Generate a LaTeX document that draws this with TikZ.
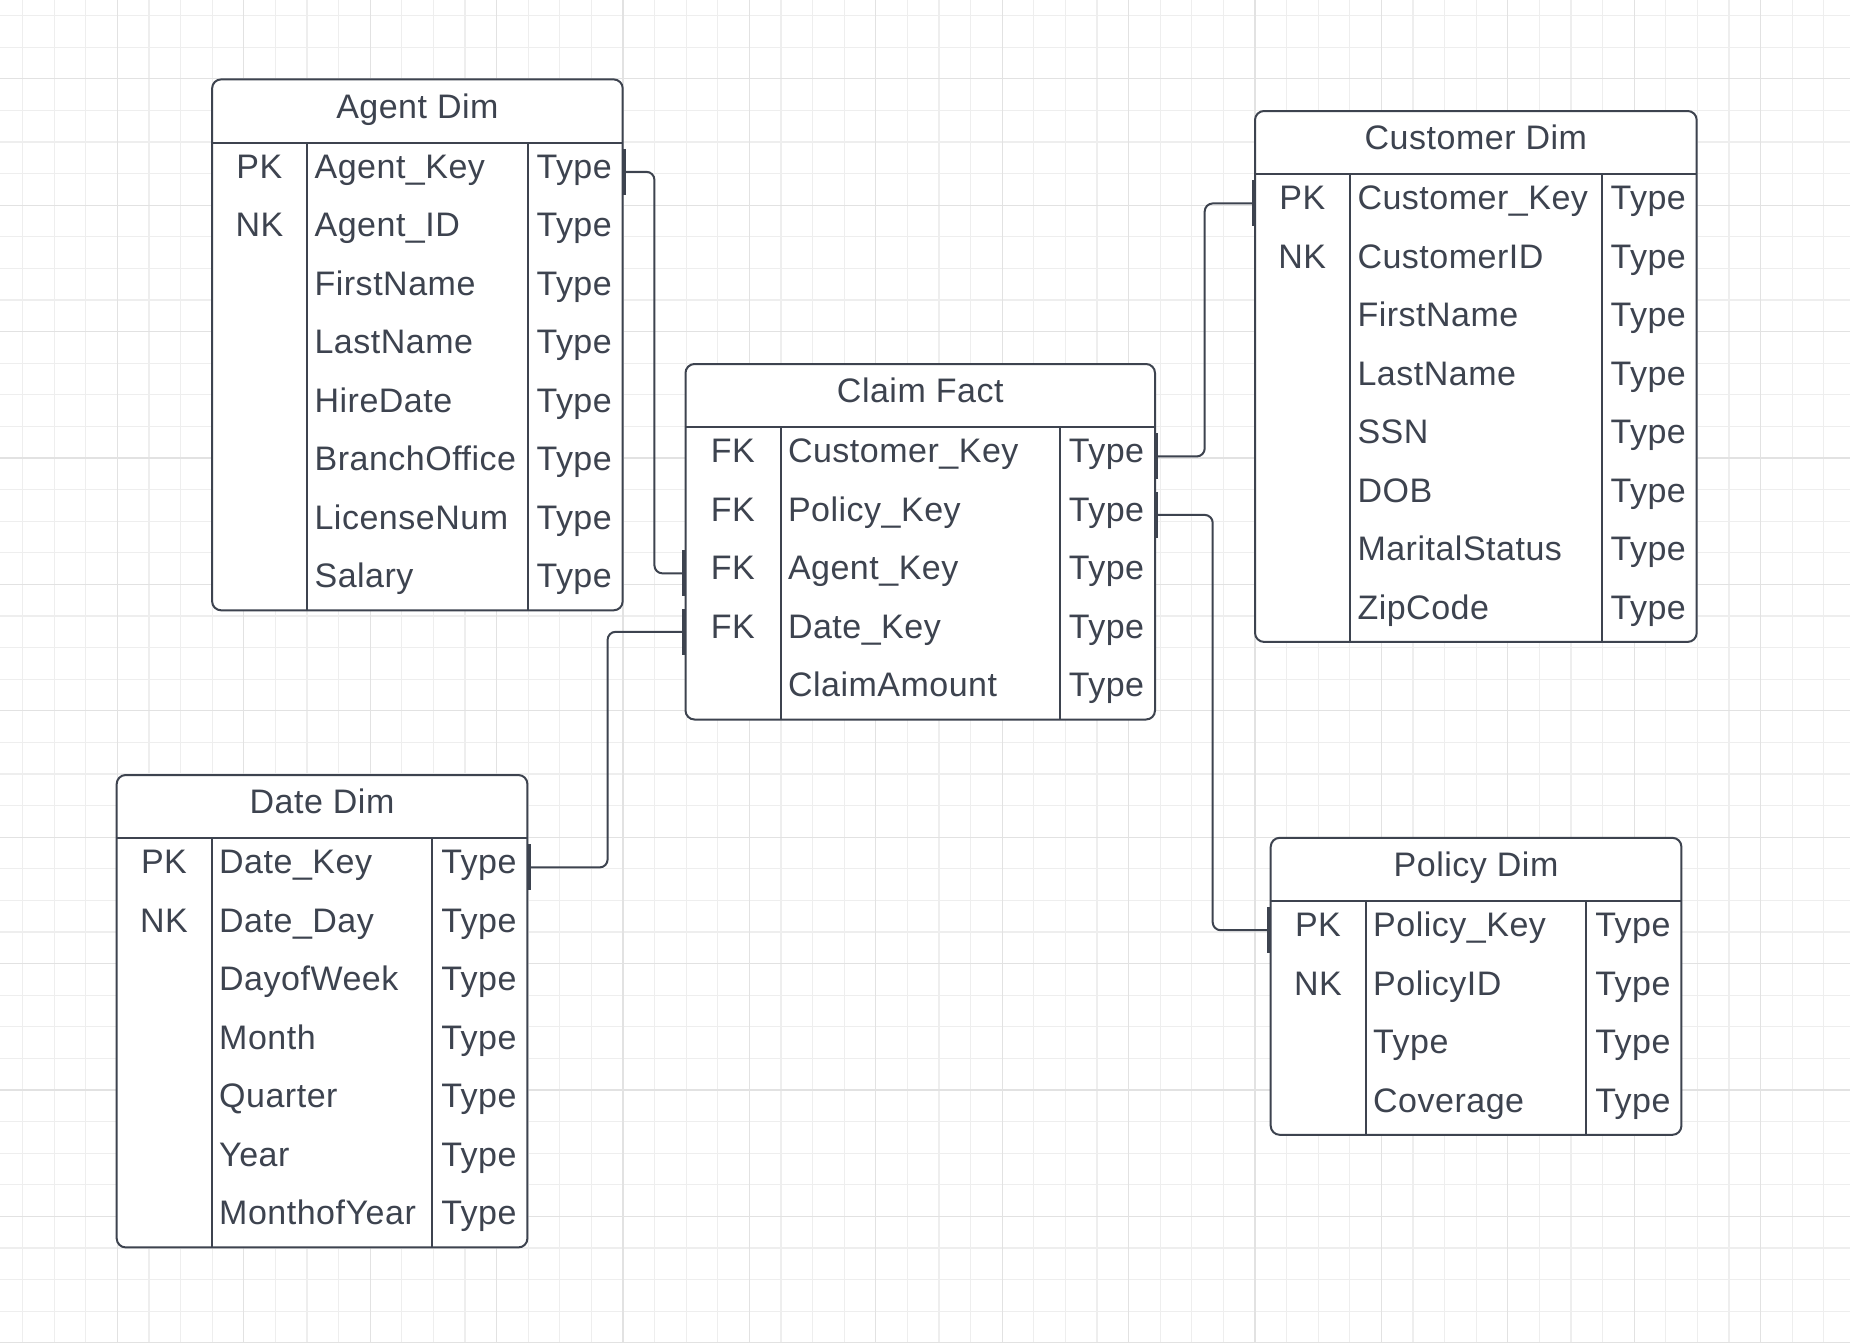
\documentclass[tikz,border=0pt]{standalone}
\usepackage{fontspec}
\setmainfont{Liberation Sans}[LetterSpace=1.5]
\usepackage{xcolor}
\usepackage{tikz}
\usetikzlibrary{positioning, calc}

\definecolor{ink}{HTML}{3D434F}
\definecolor{gridminor}{HTML}{EEEEEE}
\definecolor{gridmajor}{HTML}{E2E2E2}

\begin{document}
\begin{tikzpicture}[
  x=1pt, y=-1pt,
  tbl/.style={draw=ink, fill=white, line width=2pt, rounded corners=9pt},
  sep/.style={draw=ink, line width=2pt},
  title/.style={text=ink, font=\fontsize{34pt}{40pt}\selectfont, anchor=base, inner sep=0pt},
  key/.style={text=ink, font=\fontsize{34pt}{40pt}\selectfont, anchor=base, inner sep=0pt},
  fld/.style={text=ink, font=\fontsize{34pt}{40pt}\selectfont, anchor=base west, inner sep=0pt},
  row/.style={minimum height=58.46pt, inner sep=0pt},
  link/.style={draw=ink, line width=2pt, rounded corners=8pt},
  bar/.style={draw=ink, line width=3.2pt}
]
  \useasboundingbox[fill=white] (0,0) rectangle (1850,1342);

  % grid
  \foreach \i in {0,...,58} \draw[gridminor, line width=1.2pt] (22.5+31.6*\i,0) -- (22.5+31.6*\i,1342);
  \foreach \j in {0,...,42} \draw[gridminor, line width=1.2pt] (0,15.5+31.6*\j) -- (1850,15.5+31.6*\j);
  \foreach \i in {0,...,14} \draw[gridmajor, line width=1.2pt] (117.3+126.4*\i,0) -- (117.3+126.4*\i,1342);
  \foreach \j in {0,...,10} \draw[gridmajor, line width=1.2pt] (0,78.7+126.4*\j) -- (1850,78.7+126.4*\j);

  % Agent Dim
  \draw[tbl] (212.1,79.4) rectangle (622.7,610.3);
  \draw[sep] (212.1,142.6) -- (622.7,142.6) (307.1,142.6) -- (307.1,610.3) (527.7,142.6) -- (527.7,610.3);
  \node[title] (agent) at (417.4,118.3) {Agent Dim};
  \foreach \k/\f [count=\i] in {PK/Agent\_Key, NK/Agent\_ID, /FirstName, /LastName, /HireDate, /BranchOffice, /LicenseNum, /Salary}{
    \node[row, minimum width=410.6pt] (agent-\i) at (417.4,113.37+58.46*\i) {};
    \node[key] (agent-k\i) at ($(agent-\i.west)+(47.5,6.5)$) {\k};
    \node[fld] (agent-f\i) at ($(agent-\i.west)+(102.5,6.5)$) {\f};
    \node[fld] (agent-t\i) at ($(agent-\i.east)+(-86.5,6.5)$) {Type};
  }

  % Customer Dim
  \draw[tbl] (1255.0,111.0) rectangle (1696.7,641.9);
  \draw[sep] (1255.0,174.2) -- (1696.7,174.2) (1350.0,174.2) -- (1350.0,641.9) (1601.7,174.2) -- (1601.7,641.9);
  \node[title] (cust) at (1475.85,149.9) {Customer Dim};
  \foreach \k/\f [count=\i] in {PK/Customer\_Key, NK/CustomerID, /FirstName, /LastName, /SSN, /DOB, /MaritalStatus, /ZipCode}{
    \node[row, minimum width=441.7pt] (cust-\i) at (1475.85,144.97+58.46*\i) {};
    \node[key] (cust-k\i) at ($(cust-\i.west)+(47.5,6.5)$) {\k};
    \node[fld] (cust-f\i) at ($(cust-\i.west)+(102.5,6.5)$) {\f};
    \node[fld] (cust-t\i) at ($(cust-\i.east)+(-86.5,6.5)$) {Type};
  }

  % Claim Fact
  \draw[tbl] (685.5,364.0) rectangle (1155.0,719.5);
  \draw[sep] (685.5,427.2) -- (1155.0,427.2) (780.5,427.2) -- (780.5,719.5) (1060.0,427.2) -- (1060.0,719.5);
  \node[title] (claim) at (920.25,402.9) {Claim Fact};
  \foreach \k/\f [count=\i] in {FK/Customer\_Key, FK/Policy\_Key, FK/Agent\_Key, FK/Date\_Key, /ClaimAmount}{
    \node[row, minimum width=469.5pt] (claim-\i) at (920.25,397.97+58.46*\i) {};
    \node[key] (claim-k\i) at ($(claim-\i.west)+(47.5,6.5)$) {\k};
    \node[fld] (claim-f\i) at ($(claim-\i.west)+(102.5,6.5)$) {\f};
    \node[fld] (claim-t\i) at ($(claim-\i.east)+(-86.5,6.5)$) {Type};
  }

  % Date Dim
  \draw[tbl] (116.7,775.0) rectangle (527.4,1247.4);
  \draw[sep] (116.7,838.2) -- (527.4,838.2) (211.7,838.2) -- (211.7,1247.4) (432.4,838.2) -- (432.4,1247.4);
  \node[title] (date) at (322.05,813.9) {Date Dim};
  \foreach \k/\f [count=\i] in {PK/Date\_Key, NK/Date\_Day, /DayofWeek, /Month, /Quarter, /Year, /MonthofYear}{
    \node[row, minimum width=410.7pt] (date-\i) at (322.05,808.97+58.46*\i) {};
    \node[key] (date-k\i) at ($(date-\i.west)+(47.5,6.5)$) {\k};
    \node[fld] (date-f\i) at ($(date-\i.west)+(102.5,6.5)$) {\f};
    \node[fld] (date-t\i) at ($(date-\i.east)+(-86.5,6.5)$) {Type};
  }

  % Policy Dim
  \draw[tbl] (1270.7,837.8) rectangle (1681.4,1134.8);
  \draw[sep] (1270.7,901.0) -- (1681.4,901.0) (1365.7,901.0) -- (1365.7,1134.8) (1586.4,901.0) -- (1586.4,1134.8);
  \node[title] (pol) at (1476.05,876.7) {Policy Dim};
  \foreach \k/\f [count=\i] in {PK/Policy\_Key, NK/PolicyID, /Type, /Coverage}{
    \node[row, minimum width=410.7pt] (pol-\i) at (1476.05,871.77+58.46*\i) {};
    \node[key] (pol-k\i) at ($(pol-\i.west)+(47.5,6.5)$) {\k};
    \node[fld] (pol-f\i) at ($(pol-\i.west)+(102.5,6.5)$) {\f};
    \node[fld] (pol-t\i) at ($(pol-\i.east)+(-86.5,6.5)$) {Type};
  }

  % relationships
  \draw[link] (agent-1.east) -- ++(31.5,0) |- (claim-3.west);
  \draw[link] (date-1.east) -- ++(80,0) |- (claim-4.west);
  \draw[link] (claim-1.east) -- ++(49.5,0) |- (cust-1.west);
  \draw[link] (claim-2.east) -- ++(57.5,0) |- (pol-1.west);

  % one-ends
  \foreach \e/\s in {agent-1.east/1, claim-3.west/-1, date-1.east/1, claim-4.west/-1, claim-1.east/1, cust-1.west/-1, claim-2.east/1, pol-1.west/-1}
    \draw[bar] ([shift={(\s*1.5,-23)}]\e) -- ([shift={(\s*1.5,23)}]\e);
\end{tikzpicture}
\end{document}
